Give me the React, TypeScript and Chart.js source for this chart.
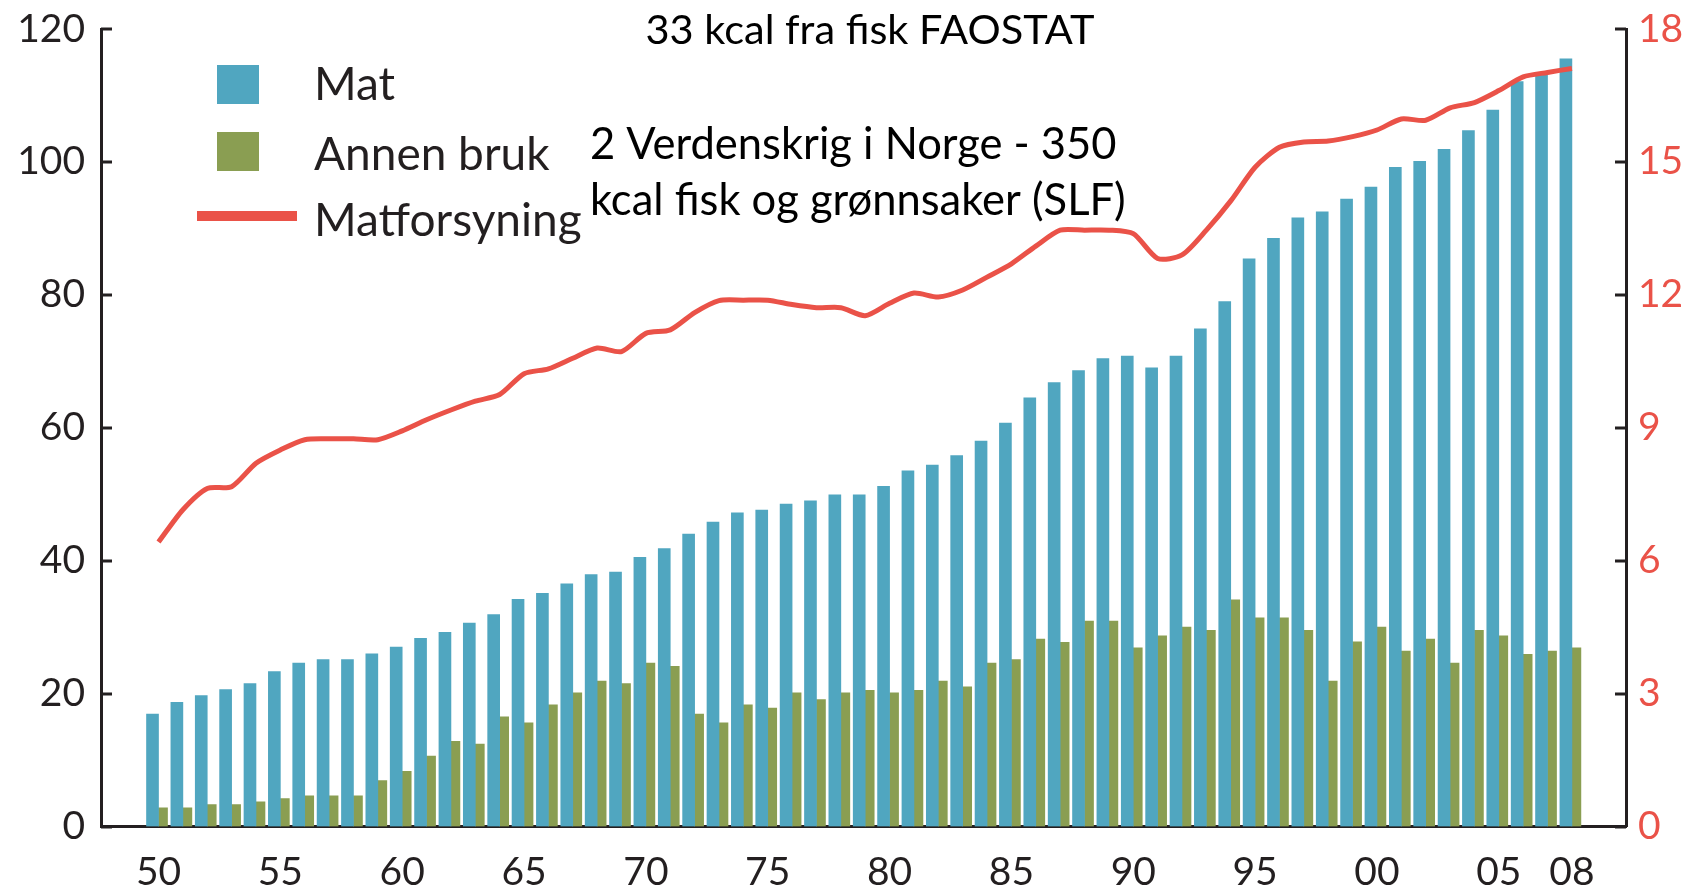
import React, { useEffect, useRef } from "react";
import { Chart, registerables } from "chart.js";

Chart.register(...registerables);

const years = [
  1950, 1951, 1952, 1953, 1954, 1955, 1956, 1957, 1958, 1959,
  1960, 1961, 1962, 1963, 1964, 1965, 1966, 1967, 1968, 1969,
  1970, 1971, 1972, 1973, 1974, 1975, 1976, 1977, 1978, 1979,
  1980, 1981, 1982, 1983, 1984, 1985, 1986, 1987, 1988, 1989,
  1990, 1991, 1992, 1993, 1994, 1995, 1996, 1997, 1998, 1999,
  2000, 2001, 2002, 2003, 2004, 2005, 2006, 2007, 2008,
];

const matValues = [
  16.9, 18.7, 19.7, 20.6, 21.5, 23.3, 24.6, 25.1, 25.1, 26.0,
  27.0, 28.3, 29.2, 30.6, 31.9, 34.2, 35.1, 36.5, 37.9, 38.3,
  40.5, 41.8, 44.0, 45.8, 47.2, 47.6, 48.5, 49.0, 49.9, 49.9,
  51.2, 53.5, 54.4, 55.8, 58.0, 60.7, 64.5, 66.8, 68.6, 70.4,
  70.8, 69.0, 70.8, 74.9, 79.0, 85.4, 88.5, 91.6, 92.5, 94.4,
  96.2, 99.2, 100.1, 101.9, 104.7, 107.8, 112.1, 113.3, 115.5,
];

const annenValues = [
  2.8, 2.8, 3.3, 3.3, 3.7, 4.2, 4.6, 4.6, 4.6, 6.9,
  8.3, 10.6, 12.8, 12.4, 16.5, 15.6, 18.3, 20.1, 21.9, 21.5,
  24.6, 24.1, 16.9, 15.6, 18.3, 17.8, 20.1, 19.1, 20.1, 20.5,
  20.1, 20.5, 21.9, 21.0, 24.6, 25.1, 28.2, 27.7, 30.9, 30.9,
  26.9, 28.7, 30.0, 29.5, 34.1, 31.4, 31.4, 29.5, 21.9, 27.8,
  30.0, 26.4, 28.2, 24.6, 29.5, 28.7, 25.9, 26.4, 26.9,
];

const forsyningValues = [
  6.42, 7.15, 7.63, 7.67, 8.2, 8.5, 8.73, 8.75, 8.75, 8.73,
  8.93, 9.18, 9.4, 9.6, 9.75, 10.22, 10.33, 10.57, 10.8, 10.72,
  11.13, 11.21, 11.6, 11.87, 11.88, 11.88, 11.78, 11.71, 11.71, 11.53,
  11.81, 12.04, 11.95, 12.11, 12.4, 12.7, 13.1, 13.46, 13.46, 13.46,
  13.38, 12.82, 12.9, 13.46, 14.12, 14.88, 15.33, 15.45, 15.47, 15.57,
  15.72, 15.97, 15.94, 16.22, 16.34, 16.61, 16.92, 17.02, 17.11,
];

const yearTicks = [1950, 1955, 1960, 1965, 1970, 1975, 1980, 1985, 1990, 1995, 2000, 2005, 2008];
const leftTicks = [0, 20, 40, 60, 80, 100, 120];
const rightTicks = [0, 3, 6, 9, 12, 15, 18];

const seriesNames = ["Mat", "Annen bruk", "Matforsyning"];
const noteTitle = "33 kcal fra fisk FAOSTAT";
const noteLines = ["2 Verdenskrig i Norge - 350", "kcal fisk og grønnsaker (SLF)"];

const BLUE = "#50a6c0";
const GREEN = "#8a9e52";
const RED = "#ea5248";
const DARK = "#231f20";
const FONT = "Lato, 'Open Sans', sans-serif";

const inwardTicks = {
  id: "inwardTicks",
  afterDatasetsDraw(chart: any) {
    const ctx = chart.ctx;
    const area = chart.chartArea;
    ctx.save();
    ctx.strokeStyle = DARK;
    ctx.lineWidth = 3;
    const y = chart.scales.y;
    const y1 = chart.scales.y1;
    leftTicks.forEach((v) => {
      const p = Math.round(y.getPixelForValue(v));
      ctx.beginPath();
      ctx.moveTo(area.left, p);
      ctx.lineTo(area.left + 11, p);
      ctx.stroke();
    });
    rightTicks.forEach((v) => {
      const p = Math.round(y1.getPixelForValue(v));
      ctx.beginPath();
      ctx.moveTo(area.right, p);
      ctx.lineTo(area.right - 11, p);
      ctx.stroke();
    });
    ctx.restore();
  },
};

const legendAndNotes = {
  id: "legendAndNotes",
  afterDraw(chart: any) {
    const ctx = chart.ctx;
    ctx.save();
    // legend
    ctx.fillStyle = BLUE;
    ctx.fillRect(217, 65, 42, 39);
    ctx.fillStyle = GREEN;
    ctx.fillRect(217, 132, 42, 39);
    ctx.fillStyle = RED;
    ctx.fillRect(197, 211, 100, 10);
    ctx.fillStyle = DARK;
    ctx.font = `400 46px ${FONT}`;
    ctx.textAlign = "left";
    ctx.textBaseline = "alphabetic";
    ctx.fillText(seriesNames[0], 314, 100);
    ctx.fillText(seriesNames[1], 314, 170);
    ctx.fillText(seriesNames[2], 314, 236);
    // notes
    ctx.fillStyle = "#000";
    ctx.font = `400 41.5px ${FONT}`;
    ctx.textAlign = "center";
    ctx.fillText(noteTitle, 870, 44);
    ctx.textAlign = "left";
    ctx.font = `400 43.5px ${FONT}`;
    ctx.fillText(noteLines[0], 590, 159);
    ctx.fillText(noteLines[1], 590, 215);
    ctx.restore();
  },
};

export default function App() {
  const canvasRef = useRef<HTMLCanvasElement | null>(null);

  useEffect(() => {
    const canvas = canvasRef.current;
    if (!canvas) return;
    const chart = new Chart(canvas, {
      type: "bar",
      data: {
        datasets: [
          {
            type: "line",
            label: seriesNames[2],
            data: years.map((x, i) => ({ x, y: forsyningValues[i] })),
            yAxisID: "y1",
            borderColor: RED,
            backgroundColor: RED,
            borderWidth: 5,
            pointRadius: 0,
            tension: 0.25,
            order: 0,
          } as any,
          {
            type: "bar",
            label: seriesNames[0],
            data: years.map((x, i) => ({ x, y: matValues[i] })),
            yAxisID: "y",
            backgroundColor: BLUE,
            barThickness: 12,
            order: 1,
          },
          {
            type: "bar",
            label: seriesNames[1],
            data: years.map((x, i) => ({ x, y: annenValues[i] })),
            yAxisID: "y",
            backgroundColor: GREEN,
            barThickness: 9,
            order: 1,
          },
        ],
      },
      options: {
        responsive: false,
        animation: false,
        devicePixelRatio: 1,
        layout: { padding: { top: 29, left: 0, right: 0, bottom: 0 } },
        plugins: { legend: { display: false }, tooltip: { enabled: false } },
        scales: {
          x: {
            type: "linear",
            offset: false,
            min: 1947.64,
            max: 2010.22,
            grid: { display: false, drawTicks: false },
            border: { display: true, color: DARK, width: 3 },
            afterBuildTicks: (axis: any) => {
              axis.ticks = yearTicks.map((v) => ({ value: v }));
            },
            afterFit: (axis: any) => {
              axis.height = 68.5;
              axis.paddingLeft = 0;
              axis.paddingRight = 0;
            },
            ticks: {
              autoSkip: false,
              maxRotation: 0,
              padding: 23,
              color: DARK,
              font: { family: FONT, size: 39, weight: "400" as any },
              callback: (v: any) => String(Number(v) % 100).padStart(2, "0"),
            },
          },
          y: {
            type: "linear",
            position: "left",
            min: 0,
            max: 120,
            grid: { display: false, drawTicks: false },
            border: { display: true, color: DARK, width: 3 },
            afterBuildTicks: (axis: any) => {
              axis.ticks = leftTicks.map((v) => ({ value: v }));
            },
            afterFit: (axis: any) => {
              axis.width = 101;
              axis.paddingTop = 0;
              axis.paddingBottom = 0;
            },
            ticks: {
              padding: 16,
              color: DARK,
              font: { family: FONT, size: 39, weight: "400" as any },
            },
          },
          y1: {
            type: "linear",
            position: "right",
            min: 0,
            max: 18,
            grid: { display: false, drawTicks: false },
            border: { display: true, color: DARK, width: 3 },
            afterBuildTicks: (axis: any) => {
              axis.ticks = rightTicks.map((v) => ({ value: v }));
            },
            afterFit: (axis: any) => {
              axis.width = 64;
              axis.paddingTop = 0;
              axis.paddingBottom = 0;
            },
            ticks: {
              padding: 12,
              color: RED,
              font: { family: FONT, size: 39, weight: "400" as any },
            },
          },
        },
      },
      plugins: [inwardTicks, legendAndNotes],
    });
    return () => chart.destroy();
  }, []);

  return (
    <div style={{ position: "fixed", left: 0, top: 0, width: 1690, height: 895, background: "#fff" }}>
      <canvas ref={canvasRef} width={1690} height={895} style={{ display: "block" }} />
    </div>
  );
}
